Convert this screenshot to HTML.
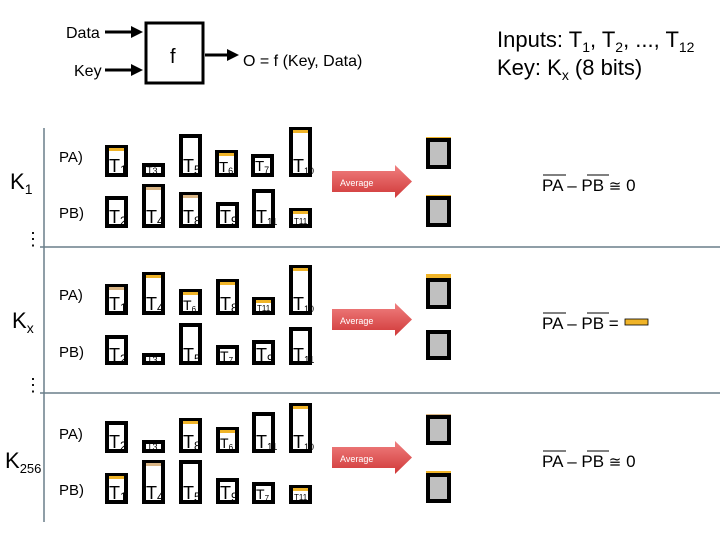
<!DOCTYPE html>
<html><head><meta charset="utf-8"><style>
html,body{margin:0;padding:0;background:#fff;}
svg{display:block;font-family:"Liberation Sans",sans-serif;}
.b{fill:#fff;stroke:#000;stroke-width:4}
.o{fill:#f0b428}.t{fill:#d9b585}
.g{fill:#c0c0c0;stroke:#000;stroke-width:4}
</style></head><body>
<svg width="720" height="540" viewBox="0 0 720 540" xmlns="http://www.w3.org/2000/svg">
<defs>
<linearGradient id="rg" x1="0" y1="0" x2="0" y2="1"><stop offset="0" stop-color="#f08080"/><stop offset="1" stop-color="#d03838"/></linearGradient>
<marker id="ah" markerWidth="4" markerHeight="4" refX="3" refY="2" orient="auto"><path d="M0,0 L4,2 L0,4 Z" fill="#000"/></marker>
</defs>
<text x="66" y="38" font-size="16">Data</text>
<text x="74" y="76" font-size="16">Key</text>
<line x1="105" y1="32" x2="140" y2="32" stroke="#000" stroke-width="3" marker-end="url(#ah)"/>
<line x1="105" y1="70" x2="140" y2="70" stroke="#000" stroke-width="3" marker-end="url(#ah)"/>
<rect x="146" y="23" width="57" height="60" fill="#fff" stroke="#000" stroke-width="3"/>
<text x="170" y="63" font-size="20">f</text>
<line x1="205" y1="55" x2="236" y2="55" stroke="#000" stroke-width="3" marker-end="url(#ah)"/>
<text x="243" y="66" font-size="16">O = f (Key, Data)</text>
<text x="497" y="47" font-size="22">Inputs: T<tspan font-size="14" dy="5">1</tspan><tspan dy="-5">, T</tspan><tspan font-size="14" dy="5">2</tspan><tspan dy="-5">, ..., T</tspan><tspan font-size="14" dy="5">12</tspan></text>
<text x="497" y="75" font-size="22">Key: K<tspan font-size="14" dy="5">x</tspan><tspan dy="-5"> (8 bits)</tspan></text>

<line x1="44" y1="128" x2="44" y2="522" stroke="#6a7f8a" stroke-width="1.5"/>
<line x1="40" y1="247" x2="720" y2="247" stroke="#6a7f8a" stroke-width="1.5"/>
<line x1="40" y1="393" x2="720" y2="393" stroke="#6a7f8a" stroke-width="1.5"/>
<text x="24" y="245" font-size="18">⋮</text>
<text x="24" y="391" font-size="18">⋮</text>

<text x="10" y="189" font-size="22">K<tspan font-size="14" dy="5">1</tspan></text>
<text x="12" y="328" font-size="22">K<tspan font-size="14" dy="5">x</tspan></text>
<text x="5" y="468" font-size="22">K<tspan font-size="13" dy="5">256</tspan></text>

<g font-size="15">
<text x="59" y="162">PA)</text><text x="59" y="218">PB)</text>
<text x="59" y="300">PA)</text><text x="59" y="357">PB)</text>
<text x="59" y="439">PA)</text><text x="59" y="495">PB)</text>
</g>

<g font-size="18">
<rect class="b" x="107" y="147" width="19" height="28"/><rect class="o" x="109" y="148" width="15" height="3"/><text x="109" y="172">T<tspan font-size="12" dy="2">1</tspan></text>
<rect class="b" x="144" y="165" width="19" height="10"/><text x="147" y="173" font-size="9">T<tspan dy="1">3</tspan></text>
<rect class="b" x="181" y="136" width="19" height="39"/><text x="183" y="172">T<tspan font-size="12" dy="2">5</tspan></text>
<rect class="b" x="217" y="152" width="19" height="23"/><rect class="o" x="219" y="153" width="15" height="3"/><text x="219" y="172" font-size="15">T<tspan font-size="9" dy="2">6</tspan></text>
<rect class="b" x="253" y="156" width="19" height="19"/><text x="255" y="171" font-size="15">T<tspan font-size="9" dy="2">7</tspan></text>
<rect class="b" x="291" y="129" width="19" height="46"/><rect class="o" x="293" y="130" width="15" height="3"/><text x="293" y="172">T<tspan font-size="9" dy="2">10</tspan></text>
<rect class="b" x="107" y="198" width="19" height="28"/><text x="109" y="223">T<tspan font-size="12" dy="2">2</tspan></text>
<rect class="b" x="144" y="186" width="19" height="40"/><rect class="t" x="146" y="187" width="15" height="3"/><text x="146" y="223">T<tspan font-size="12" dy="2">4</tspan></text>
<rect class="b" x="181" y="194" width="19" height="32"/><rect class="t" x="183" y="195" width="15" height="3"/><text x="183" y="223">T<tspan font-size="12" dy="2">8</tspan></text>
<rect class="b" x="218" y="204" width="19" height="22"/><text x="220" y="223">T<tspan font-size="12" dy="2">9</tspan></text>
<rect class="b" x="254" y="191" width="19" height="35"/><text x="256" y="223">T<tspan font-size="10" dy="2">11</tspan></text>
<rect class="b" x="291" y="210" width="19" height="16"/><rect class="o" x="293" y="211" width="15" height="3"/><text x="294" y="224" font-size="8">T11</text>
<rect class="b" x="107" y="286" width="19" height="27"/><rect class="t" x="109" y="287" width="15" height="3"/><text x="109" y="310">T<tspan font-size="12" dy="2">1</tspan></text>
<rect class="b" x="144" y="274" width="19" height="39"/><rect class="o" x="146" y="275" width="15" height="3"/><text x="146" y="310">T<tspan font-size="12" dy="2">4</tspan></text>
<rect class="b" x="181" y="291" width="19" height="22"/><rect class="o" x="183" y="292" width="15" height="3"/><text x="183" y="310" font-size="14">T<tspan font-size="8" dy="2">6</tspan></text>
<rect class="b" x="218" y="281" width="19" height="32"/><rect class="o" x="220" y="282" width="15" height="3"/><text x="220" y="310">T<tspan font-size="12" dy="2">8</tspan></text>
<rect class="b" x="254" y="299" width="19" height="14"/><rect class="o" x="256" y="300" width="15" height="3"/><text x="257" y="311" font-size="8">T11</text>
<rect class="b" x="291" y="267" width="19" height="46"/><rect class="o" x="293" y="268" width="15" height="3"/><text x="293" y="310">T<tspan font-size="9" dy="2">10</tspan></text>
<rect class="b" x="107" y="337" width="19" height="26"/><text x="109" y="361">T<tspan font-size="12" dy="2">2</tspan></text>
<rect class="b" x="144" y="355" width="19" height="8"/><text x="147" y="362" font-size="9">T<tspan dy="1">3</tspan></text>
<rect class="b" x="181" y="325" width="19" height="38"/><text x="183" y="361">T<tspan font-size="12" dy="2">5</tspan></text>
<rect class="b" x="218" y="347" width="19" height="16"/><text x="220" y="361" font-size="14">T<tspan font-size="8" dy="2">7</tspan></text>
<rect class="b" x="254" y="342" width="19" height="21"/><text x="256" y="361">T<tspan font-size="12" dy="2">9</tspan></text>
<rect class="b" x="291" y="329" width="19" height="34"/><text x="293" y="361">T<tspan font-size="10" dy="2">11</tspan></text>
<rect class="b" x="107" y="423" width="19" height="28"/><text x="109" y="448">T<tspan font-size="12" dy="2">2</tspan></text>
<rect class="b" x="144" y="442" width="19" height="9"/><text x="147" y="449" font-size="9">T<tspan dy="1">3</tspan></text>
<rect class="b" x="181" y="420" width="19" height="31"/><rect class="o" x="183" y="421" width="15" height="3"/><text x="183" y="448">T<tspan font-size="12" dy="2">8</tspan></text>
<rect class="b" x="218" y="429" width="19" height="22"/><rect class="o" x="220" y="430" width="15" height="3"/><text x="220" y="448" font-size="14">T<tspan font-size="8" dy="2">6</tspan></text>
<rect class="b" x="254" y="414" width="19" height="37"/><text x="256" y="448">T<tspan font-size="10" dy="2">11</tspan></text>
<rect class="b" x="291" y="405" width="19" height="46"/><rect class="o" x="293" y="406" width="15" height="3"/><text x="293" y="448">T<tspan font-size="9" dy="2">10</tspan></text>
<rect class="b" x="107" y="475" width="19" height="27"/><rect class="o" x="109" y="476" width="15" height="3"/><text x="109" y="499">T<tspan font-size="12" dy="2">1</tspan></text>
<rect class="b" x="144" y="462" width="19" height="40"/><rect class="t" x="146" y="463" width="15" height="3"/><text x="146" y="499">T<tspan font-size="12" dy="2">4</tspan></text>
<rect class="b" x="181" y="462" width="19" height="40"/><text x="183" y="499">T<tspan font-size="12" dy="2">5</tspan></text>
<rect class="b" x="218" y="480" width="19" height="22"/><text x="220" y="499">T<tspan font-size="12" dy="2">9</tspan></text>
<rect class="b" x="254" y="484" width="19" height="18"/><text x="256" y="499" font-size="14">T<tspan font-size="8" dy="2">7</tspan></text>
<rect class="b" x="291" y="487" width="19" height="15"/><rect class="o" x="293" y="488" width="15" height="3"/><text x="294" y="500" font-size="8">T11</text>
</g>

<g>
<path d="M332,171 L395,171 L395,165 L412,181.5 L395,198 L395,192 L332,192 Z" fill="url(#rg)"/>
<text x="340" y="186" font-size="9" fill="#fff">Average</text>
<path d="M332,309 L395,309 L395,303 L412,319.5 L395,336 L395,330 L332,330 Z" fill="url(#rg)"/>
<text x="340" y="324" font-size="9" fill="#fff">Average</text>
<path d="M332,447 L395,447 L395,441 L412,457.5 L395,474 L395,468 L332,468 Z" fill="url(#rg)"/>
<text x="340" y="462" font-size="9" fill="#fff">Average</text>
</g>

<rect class="o" x="426" y="137" width="25" height="2"/><rect class="g" x="428" y="140" width="21" height="27"/>
<rect class="o" x="426" y="195" width="25" height="2"/><rect class="g" x="428" y="198" width="21" height="27"/>
<rect class="o" x="426" y="274" width="25" height="5"/><rect class="g" x="428" y="280" width="21" height="27"/>
<rect class="g" x="428" y="332" width="21" height="26"/>
<rect class="t" x="426" y="414" width="25" height="2"/><rect class="g" x="428" y="417" width="21" height="26"/>
<rect class="o" x="426" y="471" width="25" height="3"/><rect class="g" x="428" y="475" width="21" height="26"/>

<g font-size="17">
<text x="542" y="191">PA – PB <tspan font-size="15">≅</tspan> 0</text>
<line x1="543" y1="175" x2="566" y2="175" stroke="#000" stroke-width="1"/><line x1="587" y1="175" x2="609" y2="175" stroke="#000" stroke-width="1"/>
<text x="542" y="329">PA – PB =</text>
<line x1="543" y1="313" x2="566" y2="313" stroke="#000" stroke-width="1"/><line x1="587" y1="313" x2="609" y2="313" stroke="#000" stroke-width="1"/>
<rect x="625" y="319" width="23" height="6" fill="#f0b428" stroke="#000" stroke-width="0.8"/>
<text x="542" y="467">PA – PB <tspan font-size="15">≅</tspan> 0</text>
<line x1="543" y1="451" x2="566" y2="451" stroke="#000" stroke-width="1"/><line x1="587" y1="451" x2="609" y2="451" stroke="#000" stroke-width="1"/>
</g>
</svg>
</body></html>
